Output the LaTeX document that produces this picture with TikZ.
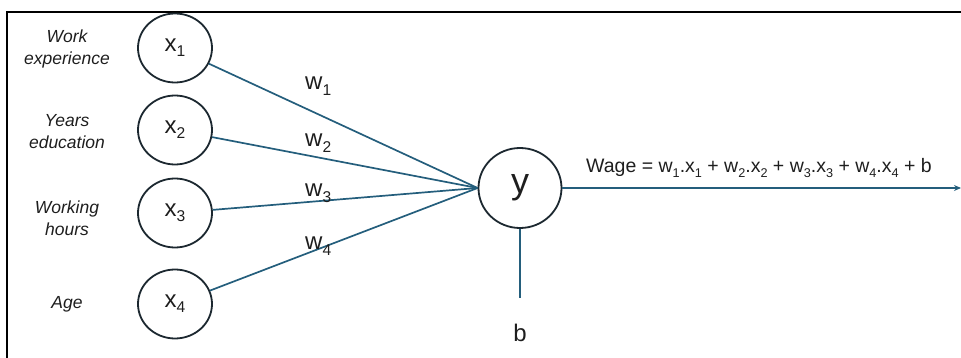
\documentclass[tikz,border=0pt]{standalone}
\usepackage{fontspec}
\setmainfont{Liberation Sans}
\usetikzlibrary{arrows.meta,shapes.geometric}
\definecolor{wire}{RGB}{36,94,124}
\definecolor{ring}{RGB}{28,40,48}
\definecolor{ink}{RGB}{30,30,30}
\newcommand\lowidx[1]{\raisebox{-0.22em}{\scalebox{0.65}{#1}}}
\begin{document}
\begin{tikzpicture}[x=1pt,y=-1pt,
  inputnode/.style={draw=ring,line width=1.8pt,ellipse,minimum width=74pt,minimum height=69pt,inner sep=0pt,text=ink,font=\fontsize{24}{28}\selectfont},
  feat/.style={align=center,text=ink,font=\itshape\fontsize{17.5}{22}\selectfont},
  wire/.style={draw=wire,line width=1.7pt},
  wlabel/.style={anchor=base west,inner sep=0pt,text=ink,font=\fontsize{24}{28}\selectfont}]
\useasboundingbox (0,0) rectangle (961,358);
\draw[black,line width=1.8pt] (961,12) -- (7,12) -- (7,358);
\node[inputnode] (x1) at (175,48) {x\lowidx{1}};
\node[inputnode] (x2) at (175,130) {x\lowidx{2}};
\node[inputnode] (x3) at (175,213) {x\lowidx{3}};
\node[inputnode] (x4) at (175,304) {x\lowidx{4}};
\node[inputnode,minimum width=83pt,minimum height=80pt,font=\fontsize{36}{40}\selectfont] (y) at (520,188) {y};
\node[feat] (f1) at (67,49) {Work\\experience};
\node[feat] (f2) at (67,132) {Years\\education};
\node[feat] (f3) at (67,218) {Working\\hours};
\node[feat] (f4) at (67,304) {Age};
\draw[wire] (x1) -- (y.west);
\draw[wire] (x2) -- (y.west);
\draw[wire] (x3) -- (y.west);
\draw[wire] (x4) -- (y.west);
\node[wlabel] (w1) at (305,90) {w\lowidx{1}};
\node[wlabel] (w2) at (305,147) {w\lowidx{2}};
\node[wlabel] (w3) at (305,197) {w\lowidx{3}};
\node[wlabel] (w4) at (305,250) {w\lowidx{4}};
\coordinate (out) at (961,188);
\draw[wire,-{Stealth[length=7pt,width=6pt]}] (y.east) -- (out);
\coordinate (bias) at (520,298);
\draw[wire] (y.south) -- (bias);
\node[wlabel,anchor=base] (b) at (520,341) {b};
\node[wlabel,font=\fontsize{19.5}{23}\selectfont] (eq) at (586,173) {Wage = w\lowidx{1}.x\lowidx{1} + w\lowidx{2}.x\lowidx{2} + w\lowidx{3}.x\lowidx{3} + w\lowidx{4}.x\lowidx{4} + b};
\end{tikzpicture}
\end{document}
